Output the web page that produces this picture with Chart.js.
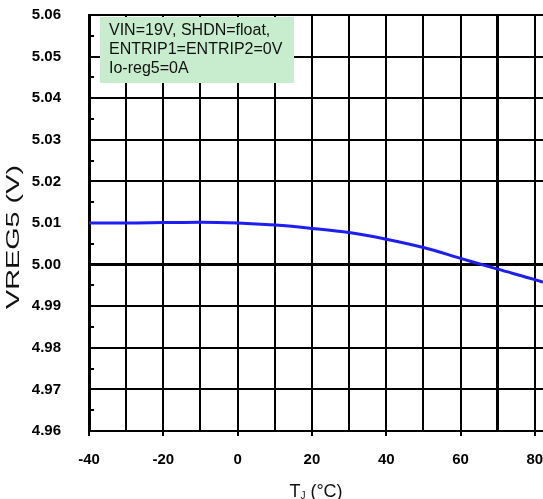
<!DOCTYPE html>
<html>
<head>
<meta charset="utf-8">
<script src="https://cdn.jsdelivr.net/npm/chart.js@4/dist/chart.umd.min.js"></script>
<style>
  html, body { margin: 0; padding: 0; background: #fff; }
  canvas { display: block; }
</style>
</head>
<body>
<canvas id="vreg5Chart" width="543" height="499"></canvas>
<script>
// junction temperature (°C) and VREG5 output (V)
var temps = [-40, -30, -20, -10, 0, 10, 20, 30, 40, 50, 60, 70, 80, 82.2];
var vreg5 = [5.0100, 5.0100, 5.0101, 5.0102, 5.0100, 5.0095, 5.0087, 5.0077, 5.0061, 5.0041, 5.0015, 4.9989, 4.9964, 4.9958];

var xTickLabels = [-40, -20, 0, 20, 40, 60, 80];
var yMinorTicks = [4.965, 4.975, 4.985, 4.995, 5.005, 5.015, 5.025, 5.035, 5.045, 5.055];
var noteLines = ['VIN=19V, SHDN=float,', 'ENTRIP1=ENTRIP2=0V', 'Io-reg5=0A'];

var FONT = '"Liberation Sans", Arial, sans-serif';

var points = temps.map(function (t, i) { return { x: t, y: vreg5[i] }; });

var extras = {
    id: 'extras',
    afterDraw: function (chart) {
        var ctx = chart.ctx;
        var x = chart.scales.x, y = chart.scales.y;
        var area = chart.chartArea;
        ctx.save();

        // small inner ticks at the half steps
        ctx.strokeStyle = '#000';
        ctx.lineWidth = 2;
        yMinorTicks.forEach(function (v) {
            var py = Math.round(y.getPixelForValue(v));
            ctx.beginPath();
            ctx.moveTo(area.left, py);
            ctx.lineTo(area.left + 5, py);
            ctx.stroke();
        });

        // conditions box
        ctx.fillStyle = '#c8ecce';
        ctx.fillRect(area.left + 11, area.top + 2, 194, 66);
        ctx.fillStyle = '#111';
        ctx.font = '16px ' + FONT;
        ctx.textBaseline = 'middle';
        ctx.textAlign = 'left';
        noteLines.forEach(function (t, i) {
            ctx.fillText(t, area.left + 20, area.top + 16 + i * 19);
        });

        // x title with subscript J
        var cx = (area.left + area.right) / 2;
        var by = 497;
        ctx.textBaseline = 'alphabetic';
        ctx.font = '18px ' + FONT;
        var wT = ctx.measureText('T').width;
        var rest = ' (°C)';
        var wR = ctx.measureText(rest).width;
        ctx.font = '10px ' + FONT;
        var wJ = ctx.measureText('J').width;
        var sx = cx - (wT + wJ + wR) / 2;
        ctx.font = '18px ' + FONT;
        ctx.fillText('T', sx, by);
        ctx.font = '10px ' + FONT;
        ctx.fillText('J', sx + wT, by + 2);
        ctx.font = '18px ' + FONT;
        ctx.fillText(rest, sx + wT + wJ, by);

        // y title, stretched along its length
        ctx.translate(14, 237);
        ctx.rotate(-Math.PI / 2);
        ctx.scale(1.6, 1);
        ctx.textAlign = 'center';
        ctx.textBaseline = 'middle';
        ctx.fillText('VREG5 (V)', 0, 0);
        ctx.restore();
    }
};

var chart = new Chart(document.getElementById('vreg5Chart').getContext('2d'), {
    type: 'line',
    data: {
        datasets: [{
            data: points,
            borderColor: '#1e1ef2',
            borderWidth: 3,
            pointRadius: 0,
            fill: false,
            cubicInterpolationMode: 'monotone'
        }]
    },
    options: {
        responsive: false,
        animation: false,
        devicePixelRatio: 1,
        layout: { padding: { top: 15, right: 0, left: 0, bottom: 0 } },
        plugins: { legend: { display: false }, tooltip: { enabled: false } },
        scales: {
            x: {
                type: 'linear',
                min: -40,
                max: 82.2,
                afterFit: function (s) {
                    s.height = 68;
                    s.paddingLeft = 0;
                    s.paddingRight = 0;
                },
                ticks: {
                    stepSize: 10,
                    includeBounds: false,
                    maxRotation: 0,
                    autoSkip: false,
                    padding: 15,
                    color: '#000',
                    font: { family: FONT, size: 15, weight: 'bold' },
                    callback: function (v) { return xTickLabels.indexOf(v) >= 0 ? String(v) : ''; }
                },
                grid: {
                    color: '#000',
                    lineWidth: function (c) { return c.tick && c.tick.value === 70 ? 3 : 2; },
                    tickLength: 5,
                    tickColor: function (c) { return c.tick && xTickLabels.indexOf(c.tick.value) >= 0 ? '#000' : 'rgba(0,0,0,0)'; }
                },
                border: { color: '#000', width: 2 }
            },
            y: {
                min: 4.96,
                max: 5.06,
                afterFit: function (s) {
                    s.width = 89;
                    s.paddingTop = 0;
                    s.paddingBottom = 0;
                },
                ticks: {
                    stepSize: 0.01,
                    padding: 28,
                    color: '#000',
                    font: { family: FONT, size: 15, weight: 'bold' },
                    callback: function (v) { return v.toFixed(2); }
                },
                grid: {
                    drawTicks: false,
                    color: function (c) {
                        return c.tick && Math.abs(c.tick.value - 5.01) < 1e-6 ? 'rgba(0,0,0,0)' : '#000';
                    },
                    lineWidth: function (c) {
                        return c.tick && Math.abs(c.tick.value - 5.00) < 1e-6 ? 3 : 2;
                    }
                },
                border: { color: '#000', width: 3 }
            }
        }
    },
    plugins: [extras]
});
</script>
</body>
</html>
